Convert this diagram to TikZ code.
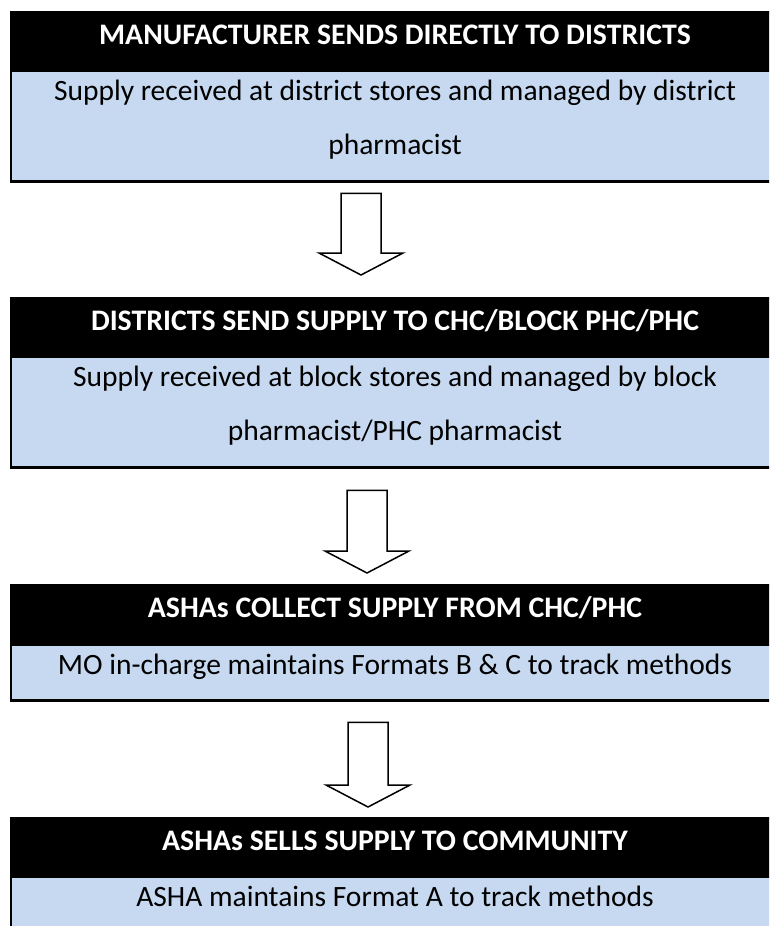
\documentclass[tikz,border=0pt]{standalone}
\usepackage{fontspec}
\setmainfont{Carlito}
\usetikzlibrary{calc}
\definecolor{paleblue}{HTML}{C6D9F1}
\newcommand{\flowarrow}[2]{%
  \draw[barrow] ($(#1)+(-20,0)$) -- ($(#1)+(20,0)$) -- ($(#2)+(20,-22)$) -- ($(#2)+(42,-22)$)
    -- (#2) -- ($(#2)+(-42,-22)$) -- ($(#2)+(-20,-22)$) -- cycle;}
\newcommand{\openframe}[2]{%
  \draw[frame] ($(#2.south east)+(20,0)$) -- (#2.south west) -- (#1.north west) -- ($(#1.north east)+(20,0)$);}
\begin{document}
\begin{tikzpicture}[x=1pt,y=-1pt,
  hdr/.style={fill=black, draw=none, anchor=north west, minimum width=790pt, inner sep=0pt},
  pane/.style={fill=paleblue, draw=none, anchor=north west, minimum width=790pt, inner sep=0pt},
  frame/.style={draw=black, line width=2.5pt},
  htext/.style={text=white, font=\fontsize{29.8}{30}\selectfont\bfseries, anchor=base, inner sep=0pt},
  btext/.style={text=black, font=\fontsize{29.5}{30}\selectfont, anchor=base, inner sep=0pt},
  barrow/.style={draw=black, line width=1.5pt, fill=white, line join=miter}]
\path[use as bounding box, clip] (0,0) rectangle (769,926);
\fill[white] (0,0) rectangle (769,926);
% box 1
\node[hdr, minimum height=60pt] (h1) at (11,12) {};
\node[pane, minimum height=109pt] (b1) at (11,72) {};
\openframe{h1}{b1}
\node[htext] (t1) at (395,44) {MANUFACTURER SENDS DIRECTLY TO DISTRICTS};
\node[btext] (s1a) at (395,100) {Supply received at district stores and managed by district};
\node[btext] (s1b) at (395,154) {pharmacist};
% box 2
\node[hdr, minimum height=60pt] (h2) at (11,298) {};
\node[pane, minimum height=109pt] (b2) at (11,358) {};
\openframe{h2}{b2}
\node[htext] (t2) at (395,330) {DISTRICTS SEND SUPPLY TO CHC/BLOCK PHC/PHC};
\node[btext] (s2a) at (395,386) {Supply received at block stores and managed by block};
\node[btext] (s2b) at (395,440) {pharmacist/PHC pharmacist};
% box 3
\node[hdr, minimum height=61pt] (h3) at (11,585) {};
\node[pane, minimum height=54pt] (b3) at (11,646) {};
\openframe{h3}{b3}
\node[htext] (t3) at (395,617) {ASHAs COLLECT SUPPLY FROM CHC/PHC};
\node[btext] (s3a) at (395,674) {MO in-charge maintains Formats B \& C to track methods};
% box 4
\node[hdr, minimum height=60pt] (h4) at (11,818) {};
\node[pane, minimum height=60pt] (b4) at (11,878) {};
\openframe{h4}{b4}
\node[htext] (t4) at (395,850) {ASHAs SELLS SUPPLY TO COMMUNITY};
\node[btext] (s4a) at (395,906) {ASHA maintains Format A to track methods};
% arrows
\coordinate (a1top) at ($(b1.south west)+(350,12)$);
\coordinate (a1tip) at ($(h2.north west)+(350,-23)$);
\flowarrow{a1top}{a1tip}
\coordinate (a2top) at ($(b2.south west)+(356,23)$);
\coordinate (a2tip) at ($(h3.north west)+(356,-12)$);
\flowarrow{a2top}{a2tip}
\coordinate (a3top) at ($(b3.south west)+(357,22)$);
\coordinate (a3tip) at ($(h4.north west)+(357,-11)$);
\flowarrow{a3top}{a3tip}
\end{tikzpicture}
\end{document}
